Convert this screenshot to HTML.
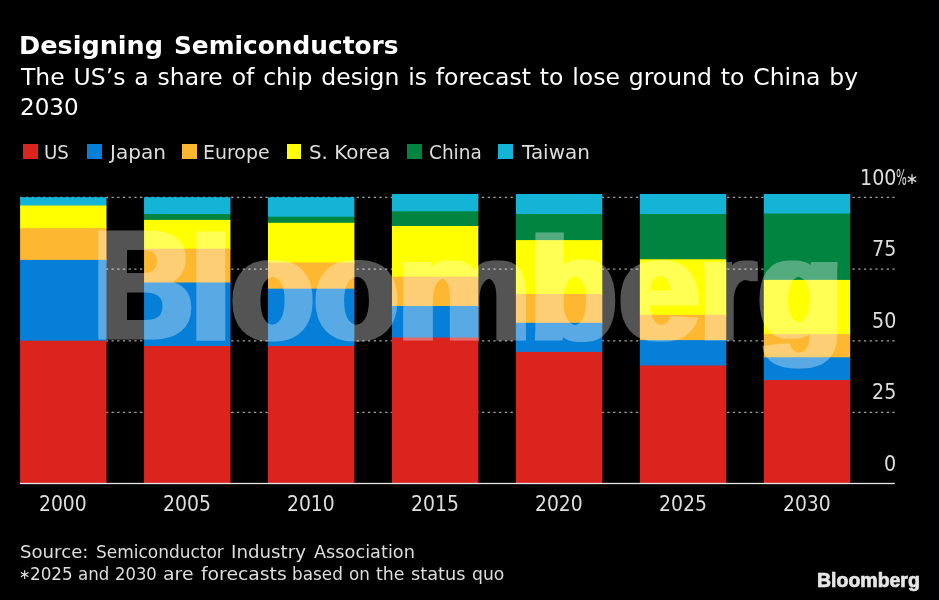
<!DOCTYPE html>
<html><head><meta charset="utf-8"><title>Designing Semiconductors</title>
<style>
html,body{margin:0;padding:0;background:#000;}
body{width:939px;height:600px;position:relative;overflow:hidden;font-family:'DejaVu Sans','Liberation Sans',sans-serif;color:#dedede;}
.t{position:absolute;white-space:nowrap;line-height:1;transform-origin:0 0;}
#chart{position:absolute;left:0;top:0;}
.sw{position:absolute;width:14.7px;height:14.6px;top:144.4px;}
.ast{position:absolute;line-height:1;color:#dedede;}
</style></head><body>
<svg id="chart" width="939" height="600" viewBox="0 0 939 600">
<line x1="20.3" x2="894.8" y1="197.4" y2="197.4" stroke="#a2a2a2" stroke-width="1.2" stroke-dasharray="2.3 3.4"/>
<line x1="20.3" x2="894.8" y1="269.2" y2="269.2" stroke="#a2a2a2" stroke-width="1.2" stroke-dasharray="2.3 3.4"/>
<line x1="20.3" x2="894.8" y1="340.8" y2="340.8" stroke="#a2a2a2" stroke-width="1.2" stroke-dasharray="2.3 3.4"/>
<line x1="20.3" x2="894.8" y1="412.3" y2="412.3" stroke="#a2a2a2" stroke-width="1.2" stroke-dasharray="2.3 3.4"/>
<rect x="20.10" y="197.20" width="86.4" height="9.30" fill="#14b4d6"/>
<rect x="20.10" y="205.50" width="86.4" height="23.60" fill="#ffff00"/>
<rect x="20.10" y="228.10" width="86.4" height="32.80" fill="#fdb730"/>
<rect x="20.10" y="259.90" width="86.4" height="81.80" fill="#067fd8"/>
<rect x="20.10" y="340.70" width="86.4" height="142.50" fill="#dc241f"/>
<rect x="144.05" y="197.20" width="86.4" height="17.80" fill="#14b4d6"/>
<rect x="144.05" y="214.00" width="86.4" height="6.90" fill="#00843f"/>
<rect x="144.05" y="219.90" width="86.4" height="29.80" fill="#ffff00"/>
<rect x="144.05" y="248.70" width="86.4" height="34.80" fill="#fdb730"/>
<rect x="144.05" y="282.50" width="86.4" height="64.50" fill="#067fd8"/>
<rect x="144.05" y="346.00" width="86.4" height="137.20" fill="#dc241f"/>
<rect x="268.00" y="197.20" width="86.4" height="20.50" fill="#14b4d6"/>
<rect x="268.00" y="216.70" width="86.4" height="7.10" fill="#00843f"/>
<rect x="268.00" y="222.80" width="86.4" height="40.70" fill="#ffff00"/>
<rect x="268.00" y="262.50" width="86.4" height="27.20" fill="#fdb730"/>
<rect x="268.00" y="288.70" width="86.4" height="58.30" fill="#067fd8"/>
<rect x="268.00" y="346.00" width="86.4" height="137.20" fill="#dc241f"/>
<rect x="391.95" y="194.00" width="86.4" height="18.30" fill="#14b4d6"/>
<rect x="391.95" y="211.30" width="86.4" height="15.70" fill="#00843f"/>
<rect x="391.95" y="226.00" width="86.4" height="51.70" fill="#ffff00"/>
<rect x="391.95" y="276.70" width="86.4" height="30.30" fill="#fdb730"/>
<rect x="391.95" y="306.00" width="86.4" height="32.50" fill="#067fd8"/>
<rect x="391.95" y="337.50" width="86.4" height="145.70" fill="#dc241f"/>
<rect x="515.90" y="194.00" width="86.4" height="21.00" fill="#14b4d6"/>
<rect x="515.90" y="214.00" width="86.4" height="27.10" fill="#00843f"/>
<rect x="515.90" y="240.10" width="86.4" height="54.90" fill="#ffff00"/>
<rect x="515.90" y="294.00" width="86.4" height="29.80" fill="#fdb730"/>
<rect x="515.90" y="322.80" width="86.4" height="30.10" fill="#067fd8"/>
<rect x="515.90" y="351.90" width="86.4" height="131.30" fill="#dc241f"/>
<rect x="639.85" y="194.00" width="86.4" height="21.00" fill="#14b4d6"/>
<rect x="639.85" y="214.00" width="86.4" height="46.30" fill="#00843f"/>
<rect x="639.85" y="259.30" width="86.4" height="56.50" fill="#ffff00"/>
<rect x="639.85" y="314.80" width="86.4" height="26.30" fill="#fdb730"/>
<rect x="639.85" y="340.10" width="86.4" height="26.40" fill="#067fd8"/>
<rect x="639.85" y="365.50" width="86.4" height="117.70" fill="#dc241f"/>
<rect x="763.80" y="194.00" width="86.4" height="20.50" fill="#14b4d6"/>
<rect x="763.80" y="213.50" width="86.4" height="67.40" fill="#00843f"/>
<rect x="763.80" y="279.90" width="86.4" height="55.20" fill="#ffff00"/>
<rect x="763.80" y="334.10" width="86.4" height="24.20" fill="#fdb730"/>
<rect x="763.80" y="357.30" width="86.4" height="23.70" fill="#067fd8"/>
<rect x="763.80" y="380.00" width="86.4" height="103.20" fill="#dc241f"/>
<rect x="19.8" y="482.85" width="875" height="1.3" fill="#e6e6e6"/>
<filter id="hx" filterUnits="userSpaceOnUse" x="0" y="150" width="939" height="300"><feMorphology operator="dilate" radius="3.45 0"/></filter>
<g id="wm" opacity="0.33"><g filter="url(#hx)" fill="#fff" stroke="#fff" stroke-width="3" stroke-linejoin="miter" font-family="Liberation Sans, sans-serif" font-weight="bold" font-size="148">
<text transform="translate(93.49,338.43) scale(0.9319,1.0456)">B</text>
<text transform="translate(190.65,338.52) scale(0.9783,0.9892)">l</text>
<text transform="translate(231.52,338.56) scale(0.9073,0.9615)">o</text>
<text transform="translate(314.54,338.56) scale(0.9280,0.9615)">o</text>
<text transform="translate(397.34,338.56) scale(1.0138,0.9615)">m</text>
<text transform="translate(529.99,338.54) scale(0.9577,0.9754)">b</text>
<text transform="translate(619.16,338.56) scale(0.9720,0.9615)">e</text>
<text transform="translate(699.23,338.56) scale(0.9776,0.9615)">r</text>
<text transform="translate(758.30,336.56) scale(0.9299,0.9375)">g</text>
</g></g>
</svg>
<div class="sw" style="left:23.2px;background:#dc241f;"></div>
<div class="sw" style="left:86.9px;background:#067fd8;"></div>
<div class="sw" style="left:182.2px;background:#fdb730;"></div>
<div class="sw" style="left:286.6px;background:#ffff00;"></div>
<div class="sw" style="left:407.4px;background:#00843f;"></div>
<div class="sw" style="left:498.3px;background:#14b4d6;"></div>
<div class="t" id="title1" style="left:19.36px;top:34.37px;font-size:24.5px;color:#fff;transform:scale(1.0410,1);font-weight:bold;">Designing</div>
<div class="t" id="title2" style="left:174.23px;top:34.37px;font-size:24.5px;color:#fff;transform:scale(1.0130,1);font-weight:bold;">Semiconductors</div>
<div class="t" id="sub1" style="left:21.30px;top:65.82px;font-size:23.5px;color:#fff;transform:scale(1.0004,1);word-spacing:1.4px;">The US’s a share of chip design is forecast to lose ground to China by</div>
<div class="t" id="sub2" style="left:19.58px;top:96.32px;font-size:23.5px;color:#fff;transform:scale(0.9805,1);">2030</div>
<div class="t" id="lg0" style="left:44.31px;top:141.68px;font-size:20px;color:#dedede;transform:scale(0.9102,1);">US</div>
<div class="t" id="lg1" style="left:109.70px;top:141.68px;font-size:20px;color:#dedede;transform:scale(1.0027,1);">Japan</div>
<div class="t" id="lg2" style="left:203.31px;top:141.68px;font-size:20px;color:#dedede;transform:scale(0.9472,1);">Europe</div>
<div class="t" id="lg3" style="left:308.76px;top:141.68px;font-size:20px;color:#dedede;transform:scale(0.9924,1);">S. Korea</div>
<div class="t" id="lg4" style="left:428.78px;top:141.68px;font-size:20px;color:#dedede;transform:scale(0.9235,1);">China</div>
<div class="t" id="lg5" style="left:521.70px;top:141.68px;font-size:20px;color:#dedede;transform:scale(0.9977,1);">Taiwan</div>
<div class="t" id="y100" style="left:859.50px;top:167.56px;font-size:20.0px;color:#dedede;transform:scale(0.9550,1.025);">100</div>
<div class="ast" id="ast1" style="left:905.6px;top:172.1px;font-size:15.5px;">∗</div>
<div class="t" id="y75" style="left:872.12px;top:239.36px;font-size:20.0px;color:#dedede;transform:scale(0.9550,1.025);">75</div>
<div class="t" id="y50" style="left:871.64px;top:310.96px;font-size:20.0px;color:#dedede;transform:scale(0.9550,1.025);">50</div>
<div class="t" id="y25" style="left:872.12px;top:382.46px;font-size:20.0px;color:#dedede;transform:scale(0.9550,1.025);">25</div>
<div class="t" id="y0" style="left:883.82px;top:453.66px;font-size:20.0px;color:#dedede;transform:scale(0.9550,1.025);">0</div>
<div class="t" id="pct" style="left:896.13px;top:167.86px;font-size:20.0px;color:#dedede;transform:scale(0.5706,1.025);">%</div>
<div class="t" id="x2000" style="left:39.39px;top:493.66px;font-size:20.0px;color:#dedede;transform:scale(0.9375,1.025);">2000</div>
<div class="t" id="x2005" style="left:163.34px;top:493.66px;font-size:20.0px;color:#dedede;transform:scale(0.9424,1.025);">2005</div>
<div class="t" id="x2010" style="left:287.29px;top:493.66px;font-size:20.0px;color:#dedede;transform:scale(0.9375,1.025);">2010</div>
<div class="t" id="x2015" style="left:411.24px;top:493.66px;font-size:20.0px;color:#dedede;transform:scale(0.9424,1.025);">2015</div>
<div class="t" id="x2020" style="left:535.19px;top:493.66px;font-size:20.0px;color:#dedede;transform:scale(0.9375,1.025);">2020</div>
<div class="t" id="x2025" style="left:659.14px;top:493.66px;font-size:20.0px;color:#dedede;transform:scale(0.9424,1.025);">2025</div>
<div class="t" id="x2030" style="left:783.09px;top:493.66px;font-size:20.0px;color:#dedede;transform:scale(0.9375,1.025);">2030</div>
<div class="t" id="s1w0" style="left:19.85px;top:542.50px;font-size:18.2px;color:#dedede;transform:scale(0.9977,1);">Source:</div>
<div class="t" id="s1w1" style="left:95.53px;top:542.50px;font-size:18.2px;color:#dedede;transform:scale(0.9326,1);">Semiconductor</div>
<div class="t" id="s1w2" style="left:231.25px;top:542.50px;font-size:18.2px;color:#dedede;transform:scale(1.0028,1);">Industry</div>
<div class="t" id="s1w3" style="left:314.36px;top:542.50px;font-size:18.2px;color:#dedede;transform:scale(0.9740,1);">Association</div>
<div class="ast" id="ast2" style="left:19.0px;top:567.3px;font-size:14px;">∗</div>
<div class="t" id="s2w0" style="left:29.65px;top:564.70px;font-size:18.2px;color:#dedede;transform:scale(0.9218,1);">2025</div>
<div class="t" id="s2w1" style="left:78.39px;top:564.70px;font-size:18.2px;color:#dedede;transform:scale(0.9134,1);">and</div>
<div class="t" id="s2w2" style="left:115.47px;top:564.70px;font-size:18.2px;color:#dedede;transform:scale(0.9023,1);">2030</div>
<div class="t" id="s2w3" style="left:163.26px;top:564.70px;font-size:18.2px;color:#dedede;transform:scale(1.0364,1);">are</div>
<div class="t" id="s2w4" style="left:200.58px;top:564.70px;font-size:18.2px;color:#dedede;transform:scale(1.0324,1);">forecasts</div>
<div class="t" id="s2w5" style="left:292.41px;top:564.70px;font-size:18.2px;color:#dedede;transform:scale(0.9256,1);">based</div>
<div class="t" id="s2w6" style="left:349.08px;top:564.70px;font-size:18.2px;color:#dedede;transform:scale(0.9185,1);">on</div>
<div class="t" id="s2w7" style="left:375.82px;top:564.70px;font-size:18.2px;color:#dedede;transform:scale(0.9544,1);">the</div>
<div class="t" id="s2w8" style="left:411.43px;top:564.70px;font-size:18.2px;color:#dedede;transform:scale(0.9741,1);">status</div>
<div class="t" id="s2w9" style="left:472.35px;top:564.70px;font-size:18.2px;color:#dedede;transform:scale(0.9457,1);">quo</div>
<div class="t" id="logo" style="left:816.79px;top:569.61px;font-size:20.2px;color:#e6e6e6;transform:scale(0.9654,1);font-weight:bold;font-family:'Liberation Sans',sans-serif;-webkit-text-stroke:0.7px #e6e6e6;">Bloomberg</div>
</body></html>
